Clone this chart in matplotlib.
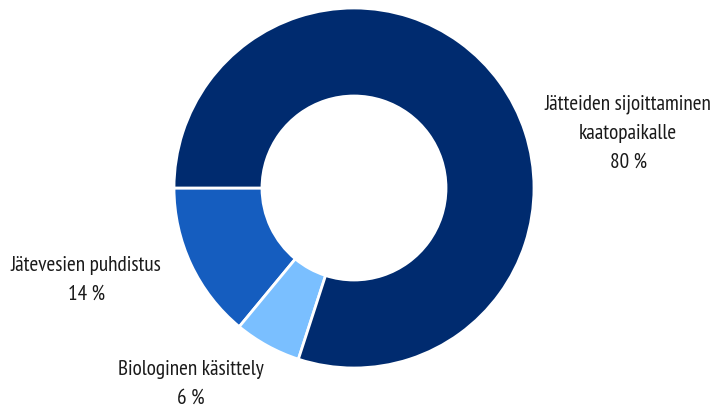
import matplotlib
matplotlib.use("Agg")
import matplotlib.pyplot as plt
from matplotlib import font_manager

# share of each treatment method
labels = ["Jätevesien puhdistus", "Biologinen käsittely", "Jätteiden sijoittaminen\nkaatopaikalle"]
values = [14, 6, 80]
colors = ["#155dbf", "#7abfff", "#002b6f"]

# narrow font similar to the original
installed = {f.name for f in font_manager.fontManager.ttflist}
family = [f for f in ["PT Sans Narrow", "Roboto Condensed", "Asap Condensed"] if f in installed]
plt.rcParams['font.family'] = family + ['DejaVu Sans']

fig = plt.figure(figsize=(7.15, 4.07), dpi=100)
ax = fig.add_axes([0, 0, 1, 1])

wedges, _ = ax.pie(values, colors=colors, startangle=180, counterclock=True,
                   center=(354, 219), radius=180,
                   wedgeprops=dict(width=88, edgecolor="white", linewidth=2))

# pie resets the limits, so set pixel-like limits afterwards
ax.set_xlim(0, 715)
ax.set_ylim(0, 407)
ax.set_aspect("equal")
ax.axis("off")

# label positions (pixels, y from bottom)
label_pos = [(86, 127), (191, 23), (628, 274)]
for lab, v, (x, y) in zip(labels, values, label_pos):
    ax.text(x, y, f"{lab}\n{v} %", ha="center", va="center", fontsize=15.3,
            color="#1a1a1a", linespacing=1.65)

fig.savefig("out.png", dpi=100)
